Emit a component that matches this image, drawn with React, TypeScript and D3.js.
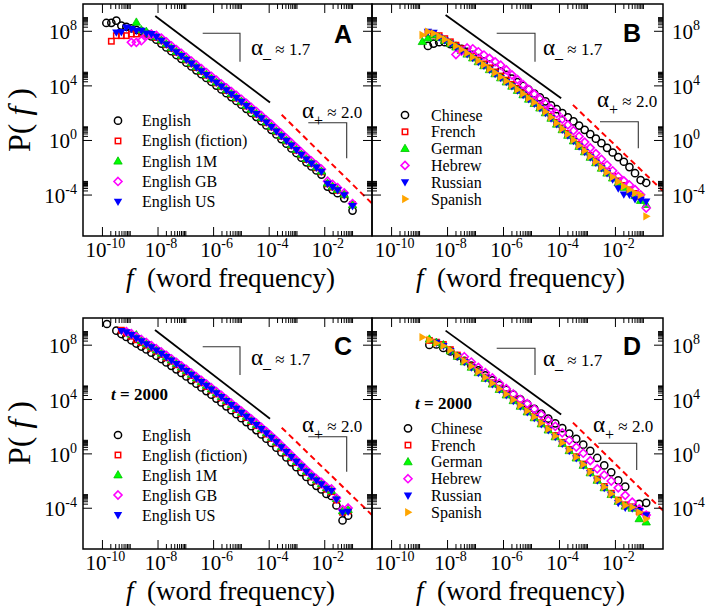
import React from "react";
import * as d3 from "d3";

// ---------------- DATA (log10 f grids, log10 P(f) values) ----------------
const gridA = [-9.86,-9.68,-9.5,-9.32,-9.14,-8.96,-8.78,-8.6,-8.42,-8.24,-8.06,-7.88,-7.7,-7.52,-7.34,-7.16,-6.98,-6.8,-6.62,-6.44,-6.26,-6.08,-5.9,-5.72,-5.54,-5.36,-5.18,-5.0,-4.82,-4.64,-4.46,-4.28,-4.1,-3.92,-3.74,-3.56,-3.38,-3.2,-3.02,-2.84,-2.66,-2.48,-2.3,-2.12,-1.9,-1.72,-1.54,-1.3,-1.0];
const A_English = [8.61,8.62,8.78,8.42,8.33,8.22,8.1,8.0,7.84,7.62,7.38,7.1,6.82,6.54,6.26,5.98,5.7,5.42,5.14,4.86,4.58,4.3,4.02,3.74,3.46,3.18,2.9,2.62,2.32,2.02,1.72,1.42,1.1,0.78,0.44,0.1,-0.24,-0.58,-0.92,-1.26,-1.6,-1.9,-2.2,-2.5,-3.38,-3.62,-3.86,-4.24,-5.14];
const A_Fiction = [null,7.27,7.68,7.68,7.68,7.8,7.8,7.85,7.82,7.72,7.55,7.3,7.02,6.74,6.46,6.18,5.9,5.62,5.34,5.06,4.78,4.5,4.22,3.94,3.66,3.38,3.1,2.82,2.52,2.22,1.92,1.62,1.3,0.98,0.64,0.3,-0.04,-0.38,-0.72,-1.06,-1.4,-1.7,-2.0,-2.3,-3.18,-3.42,-3.66,-3.98,-4.7];
const A_1M = [null,null,null,null,null,null,8.66,8.1,7.98,7.8,7.6,7.35,7.07,6.79,6.51,6.23,5.95,5.67,5.39,5.11,4.83,4.55,4.27,3.99,3.71,3.43,3.15,2.87,2.57,2.27,1.97,1.67,1.35,1.03,0.69,0.35,0.01,-0.33,-0.67,-1.01,-1.35,-1.65,-1.95,-2.25,-3.13,-3.37,-3.61,-3.95,-4.72];
const A_GB = [null,null,null,null,null,7.19,7.19,7.31,7.68,7.8,7.7,7.5,7.22,6.94,6.66,6.38,6.1,5.82,5.54,5.26,4.98,4.7,4.42,4.14,3.86,3.58,3.3,3.02,2.72,2.42,2.12,1.82,1.5,1.18,0.84,0.5,0.16,-0.18,-0.52,-0.86,-1.2,-1.5,-1.8,-2.1,-2.98,-3.22,-3.46,-3.84,-4.62];
const A_US = [null,null,7.92,7.95,8.29,8.17,8.05,8.05,7.85,7.8,7.6,7.32,7.04,6.76,6.48,6.2,5.92,5.64,5.36,5.08,4.8,4.52,4.24,3.96,3.68,3.4,3.12,2.84,2.54,2.24,1.94,1.64,1.32,1.0,0.66,0.32,-0.02,-0.36,-0.7,-1.04,-1.38,-1.68,-1.98,-2.28,-3.16,-3.4,-3.64,-4.0,-4.8];

const gridB = [-8.9,-8.7,-8.5,-8.3,-8.1,-7.9,-7.7,-7.5,-7.3,-7.1,-6.9,-6.7,-6.5,-6.3,-6.1,-5.9,-5.7,-5.5,-5.3,-5.1,-4.9,-4.7,-4.5,-4.3,-4.1,-3.9,-3.7,-3.5,-3.3,-3.1,-2.9,-2.7,-2.5,-2.3,-2.1,-1.9,-1.7,-1.5,-1.3,-1.1,-0.9];
const B_Chinese = [null,6.93,7.1,7.2,7.2,7.05,6.92,6.72,6.5,6.27,6.04,5.8,5.56,5.31,5.06,4.8,4.54,4.27,4.0,3.72,3.44,3.16,2.87,2.58,2.29,2.0,1.7,1.4,1.09,0.78,0.46,0.13,-0.2,-0.54,-0.88,-1.22,-1.56,-1.95,-2.4,-2.9,-3.1];
const B_French = [null,7.85,7.73,7.68,7.46,7.23,6.98,6.72,6.46,6.18,5.9,5.61,5.32,5.02,4.72,4.42,4.11,3.8,3.48,3.16,2.84,2.51,2.16,1.76,1.33,0.92,0.51,0.1,-0.3,-0.7,-1.1,-1.5,-1.9,-2.26,-2.62,-2.96,-3.3,-3.62,-3.88,-4.1,null];
const B_German = [7.24,7.5,7.74,7.54,7.32,7.09,6.84,6.58,6.32,6.04,5.76,5.47,5.18,4.88,4.58,4.28,3.97,3.66,3.34,3.02,2.7,2.37,2.02,1.62,1.19,0.78,0.37,-0.04,-0.44,-0.84,-1.24,-1.64,-2.04,-2.4,-2.76,-3.1,-3.44,-3.76,-4.05,-4.4,-4.7];
const B_Hebrew = [null,null,null,null,null,null,6.3,6.55,6.78,6.72,6.5,6.26,6.02,5.76,5.52,5.17,4.81,4.46,4.1,3.75,3.4,3.04,2.69,2.33,1.98,1.56,1.14,0.72,0.3,-0.12,-0.54,-0.96,-1.38,-1.8,-2.22,-2.64,-2.96,-3.26,-3.6,-3.98,-4.95];
const B_Russian = [null,7.97,7.9,7.55,7.33,7.1,6.85,6.59,6.33,6.05,5.77,5.48,5.19,4.89,4.59,4.29,3.98,3.67,3.35,3.03,2.71,2.38,2.03,1.63,1.2,0.79,0.38,-0.03,-0.43,-0.83,-1.23,-1.63,-2.03,-2.4,-2.85,-3.5,-3.95,-3.97,-4.3,-4.34,-4.46];
const B_Spanish = [7.73,7.97,7.85,7.62,7.4,7.17,6.92,6.66,6.4,6.12,5.84,5.55,5.26,4.96,4.66,4.36,4.05,3.74,3.42,3.1,2.78,2.45,2.1,1.7,1.27,0.86,0.45,0.04,-0.36,-0.76,-1.16,-1.56,-1.96,-2.32,-2.68,-3.02,-3.36,-3.6,-3.85,-4.0,-5.56];

const gridC = [-9.84,-9.5,-9.32,-9.14,-8.96,-8.78,-8.6,-8.42,-8.24,-8.06,-7.88,-7.7,-7.52,-7.34,-7.16,-6.98,-6.8,-6.62,-6.44,-6.26,-6.08,-5.9,-5.72,-5.54,-5.36,-5.18,-5.0,-4.82,-4.64,-4.46,-4.28,-4.1,-3.92,-3.74,-3.56,-3.38,-3.2,-3.02,-2.84,-2.66,-2.48,-2.3,-2.12,-1.94,-1.76,-1.58,-1.36,-1.16];
const C_English = [9.56,9.07,8.82,8.6,8.36,8.12,7.9,7.68,7.45,7.22,6.98,6.73,6.48,6.22,5.96,5.7,5.43,5.16,4.89,4.62,4.35,4.07,3.79,3.5,3.21,2.92,2.63,2.34,2.04,1.74,1.43,1.12,0.8,0.46,0.1,-0.26,-0.62,-0.98,-1.34,-1.7,-2.05,-2.35,-2.62,-2.95,-3.1,-3.8,-4.9,-4.55];
const C_Fiction = [null,null,9.1,8.9,8.66,8.4,8.2,8.0,7.78,7.56,7.32,7.07,6.82,6.56,6.3,6.04,5.77,5.5,5.23,4.96,4.69,4.41,4.13,3.84,3.55,3.26,2.97,2.68,2.38,2.08,1.77,1.46,1.14,0.8,0.44,0.08,-0.28,-0.64,-1.0,-1.36,-1.7,-2.0,-2.28,-2.6,-2.78,-3.4,-4.3,-4.2];
const C_1M = [null,null,null,null,8.8,8.75,8.34,8.1,7.87,7.64,7.4,7.15,6.9,6.64,6.38,6.12,5.85,5.58,5.31,5.04,4.77,4.49,4.21,3.92,3.63,3.34,3.05,2.76,2.46,2.16,1.85,1.54,1.22,0.88,0.52,0.16,-0.2,-0.56,-0.92,-1.28,-1.63,-1.93,-2.2,-2.5,-2.7,-3.3,-4.2,-4.1];
const C_GB = [null,null,null,9.0,8.85,8.63,8.42,8.2,7.97,7.74,7.5,7.25,7.0,6.74,6.48,6.22,5.95,5.68,5.41,5.14,4.87,4.59,4.31,4.02,3.73,3.44,3.15,2.86,2.56,2.26,1.95,1.64,1.32,0.98,0.62,0.26,-0.1,-0.46,-0.82,-1.18,-1.53,-1.83,-2.1,-2.43,-2.58,-3.25,-4.1,-3.98];
const C_US = [null,null,9.05,8.95,8.76,8.52,8.3,8.08,7.85,7.62,7.38,7.13,6.88,6.62,6.36,6.1,5.83,5.56,5.29,5.02,4.75,4.47,4.19,3.9,3.61,3.32,3.03,2.74,2.44,2.14,1.83,1.52,1.2,0.86,0.5,0.14,-0.22,-0.58,-0.94,-1.3,-1.65,-1.95,-2.22,-2.55,-2.72,-3.35,-4.3,-4.25];

const gridD = [-8.9,-8.65,-8.4,-8.15,-7.9,-7.65,-7.4,-7.15,-6.9,-6.65,-6.4,-6.15,-5.9,-5.65,-5.4,-5.15,-4.9,-4.65,-4.4,-4.15,-3.9,-3.65,-3.4,-3.15,-2.9,-2.65,-2.4,-2.15,-1.9,-1.65,-1.4,-1.15,-0.9];
const D_Chinese = [null,8.02,8.05,7.8,7.54,7.2,6.85,6.5,6.14,5.78,5.42,5.06,4.72,4.37,4.02,3.67,3.32,2.97,2.6,2.25,1.9,1.5,1.1,0.68,0.22,-0.3,-0.85,-1.36,-1.95,-2.41,null,-3.68,-3.6];
const D_French = [null,8.35,8.22,8.05,7.67,7.27,6.87,6.47,6.07,5.65,5.23,4.83,4.43,4.01,3.6,3.18,2.75,2.3,1.85,1.35,0.85,0.33,-0.21,-0.75,-1.3,-1.85,-2.4,-2.9,-3.4,-3.75,-3.9,-4.25,-4.5];
const D_German = [null,8.44,8.2,8.02,7.57,7.17,6.77,6.37,5.97,5.55,5.13,4.73,4.33,3.91,3.5,3.08,2.65,2.2,1.75,1.25,0.75,0.23,-0.31,-0.85,-1.4,-1.95,-2.5,-3.0,-3.5,-3.85,-4.0,-4.78,-5.02];
const D_Hebrew = [null,null,null,null,null,null,7.15,6.76,6.37,5.98,5.59,5.2,4.8,4.41,4.02,3.7,3.3,2.88,2.46,2.03,1.55,1.0,0.5,0.05,-0.5,-1.1,-1.55,-2.0,-2.5,-3.05,-3.55,-4.05,-4.5];
const D_Russian = [null,null,8.19,7.95,7.57,7.17,6.77,6.37,5.97,5.55,5.13,4.73,4.33,3.91,3.5,3.08,2.65,2.2,1.75,1.25,0.75,0.23,-0.31,-0.85,-1.4,-1.95,-2.5,-3.0,-3.6,-3.95,-4.0,-4.2,-4.5];
const D_Spanish = [8.59,8.4,8.15,7.95,7.64,7.24,6.84,6.44,6.04,5.62,5.2,4.8,4.4,3.98,3.57,3.15,2.72,2.27,1.82,1.32,0.82,0.3,-0.24,-0.78,-1.33,-1.88,-2.43,-2.93,-3.43,-3.8,-3.92,-4.3,-4.78];

// guide lines (log10 f, log10 P)
const solidA = [[-8.1, 9.12], [-3.97, 2.78]];
const dashedA = [[-3.55, 1.88], [-0.3, -4.62]];
const solidB = [[-8.07, 9.2], [-3.94, 3.1]];
const dashedB = [[-3.52, 2.61], [-0.3, -3.7]];
const solidC = [[-8.11, 9.12], [-3.97, 2.59]];
const dashedC = [[-3.55, 1.93], [-0.3, -4.5]];
const solidD = [[-8.07, 9.07], [-3.94, 2.9]];
const dashedD = [[-3.52, 2.3], [-0.3, -4.17]];

const xMajorExp = [-10, -8, -6, -4, -2];
const yMajorExp = [-4, 0, 4, 8];
const englishNames = ["English", "English (fiction)", "English 1M", "English GB", "English US"];
const langNames = ["Chinese", "French", "German", "Hebrew", "Russian", "Spanish"];

// ---------------- rendering ----------------
const SERIF = "'Liberation Serif', 'Times New Roman', serif";
const SANS = "'Liberation Sans', Arial, sans-serif";
const X_DOMAIN: [number, number] = [Math.pow(10, -10.7), Math.pow(10, -0.3)];
const Y_DOMAIN: [number, number] = [1e-7, 1e10];

type Kind = "circle" | "square" | "triUp" | "diamond" | "triDown" | "triRight";

function Marker({ kind, x, y }: { kind: Kind; x: number; y: number }) {
  switch (kind) {
    case "circle":
      return <circle cx={x} cy={y} r={3.6} fill="none" stroke="#000" strokeWidth={1.5} />;
    case "square":
      return <rect x={x - 2.7} y={y - 2.7} width={5.4} height={5.4} fill="none" stroke="#ff0000" strokeWidth={1.5} />;
    case "triUp":
      return <path d={`M${x},${y - 4.4}L${x + 4.2},${y + 2.9}L${x - 4.2},${y + 2.9}Z`} fill="#00ff00" stroke="#00c000" strokeWidth={0.8} />;
    case "diamond":
      return <path d={`M${x},${y - 4}L${x + 4},${y}L${x},${y + 4}L${x - 4},${y}Z`} fill="none" stroke="#ff00ff" strokeWidth={1.6} />;
    case "triDown":
      return <path d={`M${x - 4.2},${y - 2.9}L${x + 4.2},${y - 2.9}L${x},${y + 4.4}Z`} fill="#0000ff" />;
    case "triRight":
      return <path d={`M${x - 2.9},${y - 4.2}L${x + 4.4},${y}L${x - 2.9},${y + 4.2}Z`} fill="#ffa500" />;
  }
  return null;
}

interface Series { name: string; values: (number | null)[]; kind: Kind }
interface PanelCfg {
  id: string;
  letter: string;
  box: { x0: number; x1: number; y0: number; y1: number };
  ySide: "left" | "right";
  grid: number[];
  series: Series[];
  legend: { mx: number; tx: number; y0: number; dy: number };
  tNote?: { x: number; y: number };
  solid: number[][];
  dashed: number[][];
  aMinus: { x: number; y: number };
  aPlus: { x: number; y: number };
  brMinus: { x0: number; x1: number; y0: number; y1: number };
  brPlus: { x0: number; x1: number; y0: number; y1: number };
  letterPos: { x: number; y: number };
  xTitleY: number;
  yTitleY?: number;
}

const engKinds: Kind[] = ["circle", "square", "triUp", "diamond", "triDown"];
const langKinds: Kind[] = ["circle", "square", "triUp", "diamond", "triDown", "triRight"];

const panels: PanelCfg[] = [
  {
    id: "A", letter: "A", box: { x0: 83, x1: 372, y0: 4, y1: 236 }, ySide: "left", grid: gridA,
    series: [A_English, A_Fiction, A_1M, A_GB, A_US].map((v, i) => ({ name: englishNames[i], values: v, kind: engKinds[i] })),
    legend: { mx: 118, tx: 142, y0: 120.7, dy: 20.25 },
    solid: solidA, dashed: dashedA,
    aMinus: { x: 251, y: 55 }, aPlus: { x: 302, y: 118 },
    brMinus: { x0: 202.7, x1: 240, y0: 33.3, y1: 61.7 },
    brPlus: { x0: 308.3, x1: 346.7, y0: 122.7, y1: 158.3 },
    letterPos: { x: 343, y: 43 }, xTitleY: 287, yTitleY: 120,
  },
  {
    id: "B", letter: "B", box: { x0: 372, x1: 663, y0: 4, y1: 236 }, ySide: "right", grid: gridB,
    series: [B_Chinese, B_French, B_German, B_Hebrew, B_Russian, B_Spanish].map((v, i) => ({ name: langNames[i], values: v, kind: langKinds[i] })),
    legend: { mx: 405, tx: 431, y0: 115, dy: 16.8 },
    solid: solidB, dashed: dashedB,
    aMinus: { x: 543, y: 55 }, aPlus: { x: 597, y: 107 },
    brMinus: { x0: 496.7, x1: 535, y0: 33.3, y1: 61.7 },
    brPlus: { x0: 600, x1: 638.3, y0: 121.7, y1: 148.3 },
    letterPos: { x: 632, y: 42 }, xTitleY: 287,
  },
  {
    id: "C", letter: "C", box: { x0: 83, x1: 372, y0: 318, y1: 549 }, ySide: "left", grid: gridC,
    series: [C_English, C_Fiction, C_1M, C_GB, C_US].map((v, i) => ({ name: englishNames[i], values: v, kind: engKinds[i] })),
    legend: { mx: 118, tx: 142, y0: 435, dy: 20 },
    tNote: { x: 111, y: 400 },
    solid: solidC, dashed: dashedC,
    aMinus: { x: 251, y: 365 }, aPlus: { x: 302, y: 432 },
    brMinus: { x0: 202.7, x1: 240, y0: 346.7, y1: 375 },
    brPlus: { x0: 308.3, x1: 346.7, y0: 436.7, y1: 471.7 },
    letterPos: { x: 343, y: 355 }, xTitleY: 600, yTitleY: 433,
  },
  {
    id: "D", letter: "D", box: { x0: 372, x1: 663, y0: 318, y1: 549 }, ySide: "right", grid: gridD,
    series: [D_Chinese, D_French, D_German, D_Hebrew, D_Russian, D_Spanish].map((v, i) => ({ name: langNames[i], values: v, kind: langKinds[i] })),
    legend: { mx: 408, tx: 431, y0: 428.3, dy: 16.8 },
    tNote: { x: 415, y: 409 },
    solid: solidD, dashed: dashedD,
    aMinus: { x: 543, y: 366 }, aPlus: { x: 593, y: 432 },
    brMinus: { x0: 496.7, x1: 535, y0: 348.3, y1: 375 },
    brPlus: { x0: 598.3, x1: 636.7, y0: 443.3, y1: 470 },
    letterPos: { x: 632, y: 355 }, xTitleY: 600,
  },
];

function Pow({ x, y, exp, anchor }: { x: number; y: number; exp: number; anchor: "start" | "middle" | "end" }) {
  return (
    <text x={x} y={y} textAnchor={anchor} fontFamily={SERIF} fontSize={21} fill="#000">
      10<tspan dy={-9} fontSize={14}>{String(exp)}</tspan>
    </text>
  );
}

function Panel({ cfg }: { cfg: PanelCfg }) {
  const { box } = cfg;
  const x = d3.scaleLog().domain(X_DOMAIN).range([box.x0, box.x1]);
  const y = d3.scaleLog().domain(Y_DOMAIN).range([box.y1, box.y0]);
  const px = (lf: number) => x(Math.pow(10, lf));
  const py = (lp: number) => y(Math.pow(10, lp));
  const line = d3.line<number[]>().x((d) => px(d[0])).y((d) => py(d[1]));

  const xMinor: number[] = [];
  xMajorExp.forEach((e) => { for (let k = 2; k <= 10; k++) { const v = k * Math.pow(10, e); if (v <= X_DOMAIN[1]) xMinor.push(v); } });
  const yMinor: number[] = [];
  yMajorExp.forEach((e) => { for (let k = 2; k <= 10; k++) { const v = k * Math.pow(10, e); if (v <= Y_DOMAIN[1]) yMinor.push(v); } });

  const MAJ = 9, MIN = 5;
  const ticks: JSX.Element[] = [];
  xMajorExp.forEach((e, i) => {
    const xx = x(Math.pow(10, e));
    ticks.push(<line key={`xb${i}`} x1={xx} x2={xx} y1={box.y1} y2={box.y1 - MAJ} />);
    ticks.push(<line key={`xt${i}`} x1={xx} x2={xx} y1={box.y0} y2={box.y0 + MAJ} />);
  });
  xMinor.forEach((v, i) => {
    const xx = x(v);
    ticks.push(<line key={`xmb${i}`} x1={xx} x2={xx} y1={box.y1} y2={box.y1 - MIN} />);
    ticks.push(<line key={`xmt${i}`} x1={xx} x2={xx} y1={box.y0} y2={box.y0 + MIN} />);
  });
  yMajorExp.forEach((e, i) => {
    const yy = y(Math.pow(10, e));
    ticks.push(<line key={`yl${i}`} x1={box.x0} x2={box.x0 + MAJ} y1={yy} y2={yy} />);
    ticks.push(<line key={`yr${i}`} x1={box.x1} x2={box.x1 - MAJ} y1={yy} y2={yy} />);
  });
  yMinor.forEach((v, i) => {
    const yy = y(v);
    ticks.push(<line key={`yml${i}`} x1={box.x0} x2={box.x0 + MIN} y1={yy} y2={yy} />);
    ticks.push(<line key={`ymr${i}`} x1={box.x1} x2={box.x1 - MIN} y1={yy} y2={yy} />);
  });

  const clipId = `clip${cfg.id}`;
  const cx = (box.x0 + box.x1) / 2;

  return (
    <g>
      <defs>
        <clipPath id={clipId}>
          <rect x={box.x0} y={box.y0} width={box.x1 - box.x0} height={box.y1 - box.y0} />
        </clipPath>
      </defs>
      <g clipPath={`url(#${clipId})`}>
        <path d={line(cfg.solid) || ""} stroke="#000" strokeWidth={1.8} fill="none" />
        <path d={line(cfg.dashed) || ""} stroke="#ff0000" strokeWidth={2} strokeDasharray="6,4" fill="none" />
        {cfg.series.map((s, si) => (
          <g key={si}>
            {s.values.map((v, i) =>
              v === null ? null : <Marker key={i} kind={s.kind} x={px(cfg.grid[i])} y={py(v)} />
            )}
          </g>
        ))}
      </g>
      {/* slope brackets */}
      <g stroke="#333" strokeWidth={1.1} fill="none">
        <polyline points={`${cfg.brMinus.x0},${cfg.brMinus.y0} ${cfg.brMinus.x1},${cfg.brMinus.y0} ${cfg.brMinus.x1},${cfg.brMinus.y1}`} />
        <polyline points={`${cfg.brPlus.x0},${cfg.brPlus.y0} ${cfg.brPlus.x1},${cfg.brPlus.y0} ${cfg.brPlus.x1},${cfg.brPlus.y1}`} />
      </g>
      <text x={cfg.aMinus.x} y={cfg.aMinus.y} fontFamily={SERIF} fill="#000">
        <tspan fontSize={23}>α</tspan>
        <tspan fontSize={16} dy={3}>_</tspan>
        <tspan fontSize={17} dy={-3}>{"\u00a0≈ 1.7"}</tspan>
      </text>
      <text x={cfg.aPlus.x} y={cfg.aPlus.y} fontFamily={SERIF} fill="#000">
        <tspan fontSize={23}>α</tspan>
        <tspan fontSize={16} dy={8}>+</tspan>
        <tspan fontSize={17} dy={-8}>{"\u00a0≈ 2.0"}</tspan>
      </text>
      {/* frame and ticks */}
      <g stroke="#000" strokeWidth={1}>{ticks}</g>
      <rect x={box.x0} y={box.y0} width={box.x1 - box.x0} height={box.y1 - box.y0} fill="none" stroke="#000" strokeWidth={1.5} />
      {/* tick labels */}
      {xMajorExp.map((e) => (
        <Pow key={`xl${e}`} x={x(Math.pow(10, e)) + 3} y={box.y1 + 21} exp={e} anchor="middle" />
      ))}
      {yMajorExp.map((e) =>
        cfg.ySide === "left" ? (
          <Pow key={`yl${e}`} x={box.x0 - 6} y={y(Math.pow(10, e)) + 8} exp={e} anchor="end" />
        ) : (
          <Pow key={`yl${e}`} x={box.x1 + 9} y={y(Math.pow(10, e)) + 8} exp={e} anchor="start" />
        )
      )}
      {/* axis titles */}
      <text x={cx + 3} y={cfg.xTitleY} textAnchor="middle" fontFamily={SERIF} fontSize={27} fill="#000">
        <tspan fontStyle="italic">f</tspan>{"\u00a0\u00a0(word frequency)"}
      </text>
      {cfg.yTitleY !== undefined && (
        <text transform={`translate(30,${cfg.yTitleY}) rotate(-90)`} textAnchor="middle" fontFamily={SERIF} fontSize={32} fill="#000">
          P(<tspan fontStyle="italic">{"\u00a0f"}</tspan>{"\u00a0)"}
        </text>
      )}
      {/* panel letter */}
      <text x={cfg.letterPos.x} y={cfg.letterPos.y} textAnchor="middle" fontFamily={SANS} fontWeight="bold" fontSize={25} fill="#000">
        {cfg.letter}
      </text>
      {cfg.tNote && (
        <text x={cfg.tNote.x} y={cfg.tNote.y} fontFamily={SERIF} fontWeight="bold" fontSize={17} fill="#000">
          <tspan fontStyle="italic">t</tspan> = 2000
        </text>
      )}
      {/* legend */}
      {cfg.series.map((s, i) => {
        const ly = cfg.legend.y0 + i * cfg.legend.dy;
        return (
          <g key={`lg${i}`}>
            <Marker kind={s.kind} x={cfg.legend.mx} y={ly} />
            <text x={cfg.legend.tx} y={ly + 5.5} fontFamily={SERIF} fontSize={16} fill="#000">{s.name}</text>
          </g>
        );
      })}
    </g>
  );
}

export default function App() {
  return (
    <svg width={712} height={616} viewBox="0 0 712 616" style={{ display: "block", position: "absolute", left: 0, top: 0, background: "#fff" }}>
      <rect x={0} y={0} width={712} height={616} fill="#fff" />
      {panels.map((p) => (
        <Panel key={p.id} cfg={p} />
      ))}
    </svg>
  );
}
